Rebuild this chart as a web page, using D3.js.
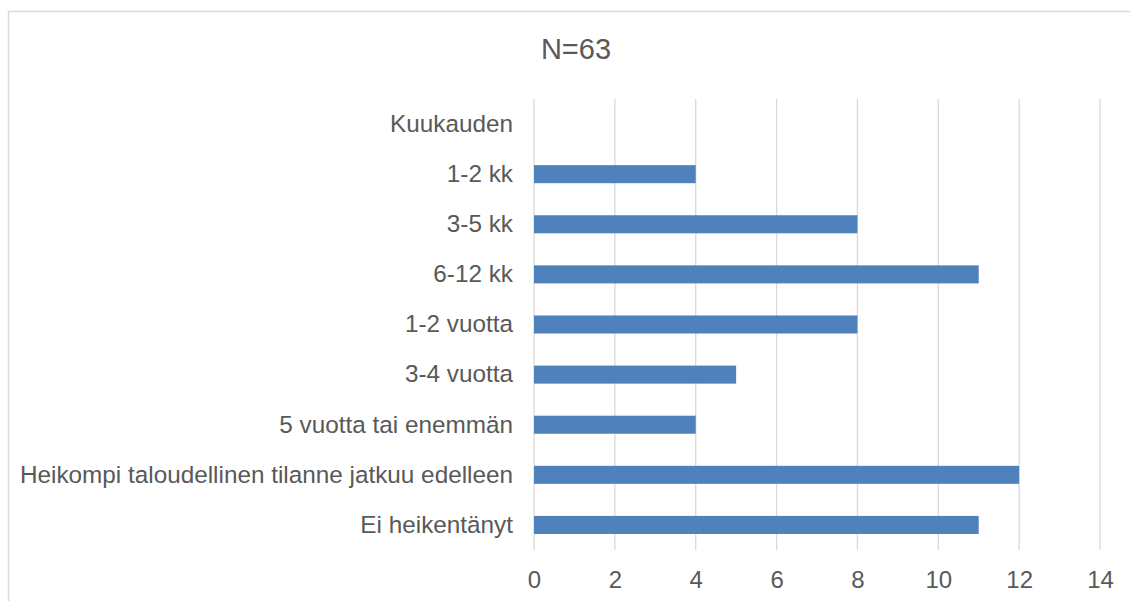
<!DOCTYPE html>
<html><head><meta charset="utf-8">
<script src="https://cdn.jsdelivr.net/npm/d3@7"></script>
<style>body{margin:0;background:#fff}svg{display:block}</style>
</head><body>
<svg id="c" width="1130" height="601"></svg>
<script>
const categories = ["Kuukauden","1-2 kk","3-5 kk","6-12 kk","1-2 vuotta","3-4 vuotta","5 vuotta tai enemmän","Heikompi taloudellinen tilanne jatkuu edelleen","Ei heikentänyt"];
const values = [null,4,8,11,8,5,4,12,11];
const tickValues = [0,2,4,6,8,10,12,14];
const title = "N=63";

(function(){
const svg = d3.select("#c");
const font = "'Liberation Sans', Arial, sans-serif";
const textColor = "#595959";
const pLeft = 534, pRight = 1100, pTop = 99, pBottom = 550;

svg.append("rect").attr("x",8.5).attr("y",11.5).attr("width",1130).attr("height",600)
  .attr("fill","none").attr("stroke","#D9D9D9").attr("stroke-width",1.5);

const x = d3.scaleLinear().domain([0,14]).range([pLeft,pRight]);
const y = d3.scaleBand().domain(categories).range([pTop,pBottom]).paddingInner(0.64).paddingOuter(0.32);

svg.append("g").selectAll("line").data(tickValues).join("line")
  .attr("x1",d=>x(d)).attr("x2",d=>x(d)).attr("y1",pTop).attr("y2",pBottom)
  .attr("stroke","#D9D9D9").attr("stroke-width",1.3);

svg.append("g").selectAll("rect").data(categories.map((c,i)=>({c,v:values[i]})).filter(d=>d.v!=null)).join("rect")
  .attr("x",x(0)).attr("y",d=>y(d.c)).attr("width",d=>x(d.v)-x(0)).attr("height",y.bandwidth())
  .attr("fill","#4F81BD");

const yAxis = d3.axisLeft(y).tickSize(0).tickPadding(21);
const gy = svg.append("g").attr("transform",`translate(${pLeft},0)`).call(yAxis);
gy.select(".domain").remove();
gy.selectAll("text").attr("font-family",font).attr("font-size",24.3).attr("fill",textColor);

const xAxis = d3.axisBottom(x).tickValues(tickValues).tickSize(0).tickPadding(21);
const gx = svg.append("g").attr("transform",`translate(0,${pBottom})`).call(xAxis);
gx.select(".domain").remove();
gx.selectAll("text").attr("font-family",font).attr("font-size",24).attr("fill",textColor);

svg.append("text").attr("x",576).attr("y",59).attr("text-anchor","middle")
  .attr("font-family",font).attr("font-size",29).attr("fill",textColor).text(title);
})();
</script>
</body></html>
